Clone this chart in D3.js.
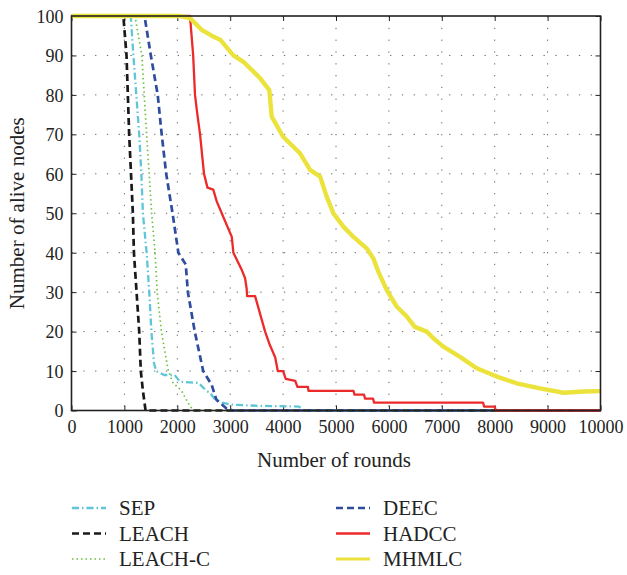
<!DOCTYPE html>
<html>
<head>
<meta charset="utf-8">
<script src="https://cdn.jsdelivr.net/npm/d3@7"></script>
<style>
  body { margin: 0; background: #fff; }
  text { font-family: 'Liberation Serif', 'DejaVu Serif', serif; fill: #222; }
</style>
</head>
<body>
<div class="chart"></div>
<script>
// rounds vs alive nodes
const sep = [[0,100],[1120,100],[1170,90],[1280,70],[1320,60],[1350,50],[1420,40],[1470,30],[1510,20],[1560,12],[1600,10],[1750,9],[1950,9],[2050,7.3],[2400,7],[2550,5],[2620,4.5],[2700,3],[2850,2],[3000,1.5],[3500,1.2],[4300,1],[4400,0],[10000,0]]
const leach = [[0,100],[980,100],[1040,90],[1090,70],[1160,50],[1180,40],[1280,20],[1310,10],[1350,5],[1400,0],[10000,0]]
const leachC = [[0,100],[1200,100],[1330,90],[1420,70],[1515,50],[1580,40],[1620,30],[1700,20],[1830,10],[1920,7],[2080,5],[2200,2],[2300,0],[10000,0]]
const deec = [[0,100],[1380,100],[1500,90],[1630,80],[1705,70],[1790,60],[1910,50],[2020,40],[2160,37],[2200,30],[2330,20],[2490,10],[2650,6.5],[2740,2.7],[2930,0.5],[3050,0],[10000,0]]
const hadcc = [[0,100],[2240,100],[2300,90],[2335,80],[2370,76],[2430,70],[2505,60],[2570,56.5],[2680,56],[2745,53],[2840,50],[3030,44],[3060,40],[3220,35.6],[3280,33.6],[3310,31],[3320,29],[3470,29],[3660,20],[3750,16.6],[3850,13.5],[3900,10],[4000,10],[4050,8],[4230,7.5],[4270,6],[4470,6],[4480,5],[5330,5],[5350,4],[5530,4],[5550,3],[5700,3],[5720,2],[7780,2],[7800,1],[8000,1],[8020,0],[10000,0]]
const mhmlc = [[0,100],[2050,100],[2240,99.5],[2460,96.5],[2650,95],[2810,94],[3060,90],[3250,88.4],[3560,84.3],[3740,81.2],[3785,74.5],[4000,69.4],[4320,65.2],[4510,61],[4700,59.3],[4824,54.2],[4950,50],[5140,46.6],[5330,44],[5580,41.1],[5705,38.6],[5800,35.2],[5960,30.5],[6150,26.3],[6340,23.8],[6490,21.2],[6715,20],[6840,18.3],[7030,16.2],[7345,13.6],[7660,10.7],[8040,8.6],[8415,6.9],[8855,5.6],[9300,4.5],[9675,4.8],[10000,4.9]]

const seriesNames = ['SEP', 'LEACH', 'LEACH-C', 'DEEC', 'HADCC', 'MHMLC']
const seriesData = [sep, leach, leachC, deec, hadcc, mhmlc]

const xTicks = d3.range(0, 10001, 1000)
const yTicks = d3.range(0, 101, 10)

const styles = {
  'SEP':     { color: '#5ec6d6', width: 2.3, dash: '7,3,1.5,3' },
  'LEACH':   { color: '#1a1a1a', width: 2.7, dash: '7,4' },
  'LEACH-C': { color: '#6cc23e', width: 1.7, dash: '1.5,3' },
  'DEEC':    { color: '#2f4d9e', width: 2.7, dash: '7,4' },
  'HADCC':   { color: '#ec2a2a', width: 2.3, dash: null },
  'MHMLC':   { color: '#ebe33c', width: 4.4, dash: null }
}

const width = 627, height = 575
const plot = { left: 71.5, right: 600.5, top: 16, bottom: 410.5 }

const svg = d3.select('.chart')
  .append('svg')
  .attr('width', width)
  .attr('height', height)

const x = d3.scaleLinear().domain([0, 10000]).range([plot.left, plot.right])
const y = d3.scaleLinear().domain([0, 100]).range([plot.bottom, plot.top])

// dotted grid
svg.append('g').selectAll('line')
  .data(xTicks.slice(1, -1))
  .enter().append('line')
  .attr('x1', d => x(d)).attr('x2', d => x(d))
  .attr('y1', plot.top).attr('y2', plot.bottom)
  .attr('stroke', '#666').attr('stroke-width', 1)
  .attr('stroke-dasharray', '1.3,10.5')

svg.append('g').selectAll('line')
  .data(yTicks.slice(1, -1))
  .enter().append('line')
  .attr('x1', plot.left).attr('x2', plot.right)
  .attr('y1', d => y(d)).attr('y2', d => y(d))
  .attr('stroke', '#666').attr('stroke-width', 1)
  .attr('stroke-dasharray', '1.3,10.5')

// axes with inward ticks on all sides
let bottomAxis = svg.append('g')
  .attr('transform', 'translate(0,' + plot.bottom + ')')
  .call(d3.axisBottom(x).tickValues(xTicks).tickSizeInner(-5).tickSizeOuter(0).tickPadding(10).tickFormat(d3.format('d')))
let leftAxis = svg.append('g')
  .attr('transform', 'translate(' + plot.left + ',0)')
  .call(d3.axisLeft(y).tickValues(yTicks).tickSizeInner(-5).tickSizeOuter(0).tickPadding(8))
svg.append('g')
  .attr('transform', 'translate(0,' + plot.top + ')')
  .call(d3.axisTop(x).tickValues(xTicks).tickSizeInner(-5).tickSizeOuter(0).tickFormat(''))
svg.append('g')
  .attr('transform', 'translate(' + plot.right + ',0)')
  .call(d3.axisRight(y).tickValues(yTicks).tickSizeInner(-5).tickSizeOuter(0).tickFormat(''))

svg.selectAll('.domain').remove()
svg.selectAll('.tick line').attr('stroke', '#222').attr('stroke-width', 1)
bottomAxis.selectAll('text').style('font-size', '18px').attr('fill', '#222')
leftAxis.selectAll('text').style('font-size', '18px').attr('fill', '#222').attr('dy', '0.35em')

let line = d3.line()
  .x(d => x(d[0]))
  .y(d => y(d[1]))

seriesNames.forEach((name, i) => {
  let s = styles[name]
  svg.append('path')
    .datum(seriesData[i])
    .attr('d', line)
    .attr('fill', 'none')
    .attr('stroke', s.color)
    .attr('stroke-width', s.width)
    .attr('stroke-linejoin', 'round')
    .attr('stroke-dasharray', s.dash)
})

// frame
svg.append('rect')
  .attr('x', plot.left).attr('y', plot.top)
  .attr('width', plot.right - plot.left)
  .attr('height', plot.bottom - plot.top)
  .attr('fill', 'none')
  .attr('stroke', '#222')
  .attr('stroke-width', 1.6)

svg.append('text')
  .attr('x', 334)
  .attr('y', 467)
  .attr('text-anchor', 'middle')
  .style('font-size', '21px')
  .text('Number of rounds')

svg.append('text')
  .attr('transform', 'translate(24,' + ((plot.top + plot.bottom) / 2) + ') rotate(-90)')
  .attr('text-anchor', 'middle')
  .style('font-size', '21px')
  .text('Number of alive nodes')

// legend, two columns of three
let legend = svg.selectAll('.legend')
  .data(seriesNames)
  .enter().append('g')
  .attr('class', 'legend')
  .attr('transform', (d, i) => {
    let col = Math.floor(i / 3), row = i % 3
    return 'translate(' + (col === 0 ? 72 : 336) + ',' + (508 + row * 25.5) + ')'
  })

legend.append('line')
  .attr('x1', 0).attr('x2', 34)
  .attr('y1', 0).attr('y2', 0)
  .attr('stroke', d => styles[d].color)
  .attr('stroke-width', d => Math.min(styles[d].width, 3))
  .attr('stroke-dasharray', d => styles[d].dash)

legend.append('text')
  .attr('x', 47)
  .attr('y', 0)
  .attr('dy', '0.35em')
  .style('font-size', '21px')
  .text(d => d)
</script>
</body>
</html>
